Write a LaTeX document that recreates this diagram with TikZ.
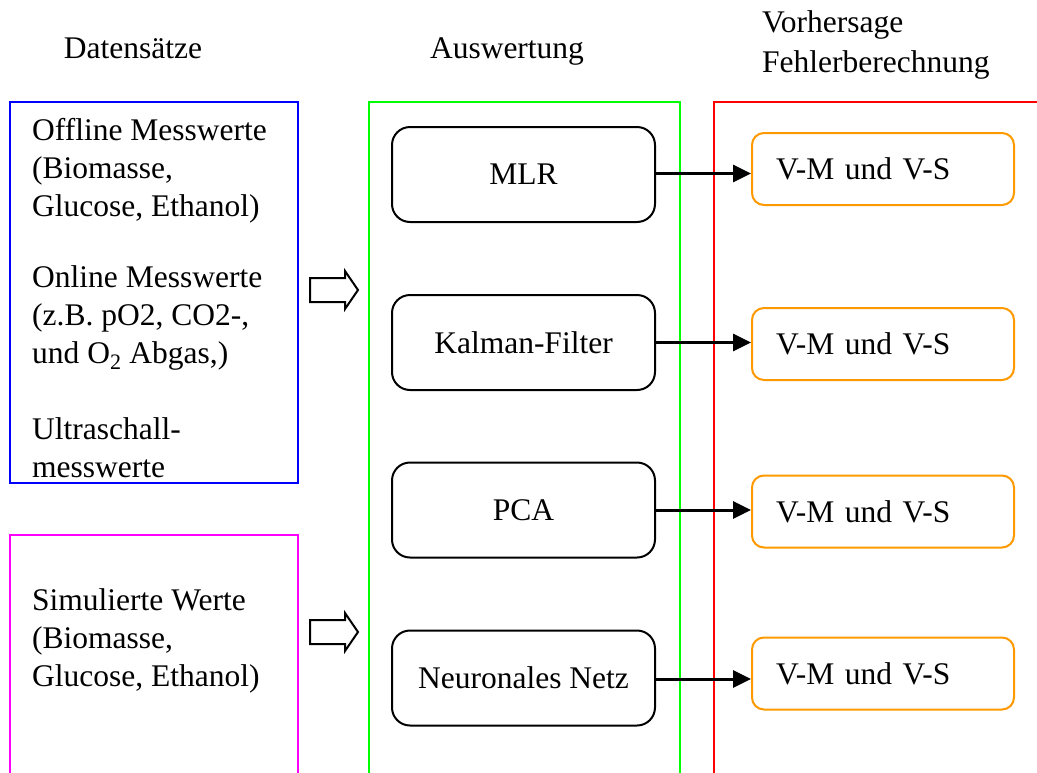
\documentclass[tikz,border=0pt]{standalone}
\usepackage{fontspec}
\setmainfont{Liberation Serif}
\usetikzlibrary{arrows.meta}
\definecolor{fblue}{RGB}{0,0,255}
\definecolor{fmag}{RGB}{255,0,255}
\definecolor{fgreen}{RGB}{0,255,0}
\definecolor{fred}{RGB}{255,0,0}
\definecolor{forange}{RGB}{255,153,0}
\begin{document}
\begin{tikzpicture}[x=1pt,y=-1pt,
  every node/.style={font=\fontsize{31.5}{38}\selectfont},
  frame/.style={line width=1.5pt},
  txt/.style={align=left,anchor=west,inner sep=0pt},
  method/.style={draw=black,line width=2pt,rounded corners=18pt,minimum width=263pt,minimum height=95pt,inner sep=0pt},
  result/.style={draw=forange,line width=2pt,rounded corners=12pt,minimum width=262pt,minimum height=72pt,inner xsep=24pt,text width=214pt,align=left,inner ysep=0pt},
  conn/.style={line width=3pt,-{Triangle[length=18pt,width=17pt]}},
  hollow/.style={draw=black,line width=2pt,fill=white,line join=miter}
]
\useasboundingbox (0,0) rectangle (1037,772);
\clip (0,0) rectangle (1037,772);
% headers
\node[anchor=base,inner sep=0pt] (h1) at (133,58) {Datensätze};
\node[anchor=base,inner sep=0pt] (h2) at (507,58) {Auswertung};
\node[txt,align=left,anchor=north west,font=\fontsize{31.5}{40}\selectfont] (h3) at (762,10) {Vorhersage\\Fehlerberechnung};
% frames
\draw[frame,fblue] (10,102) rectangle (298,483);
\draw[frame,fmag] (10,790) -- (10,535) -- (298,535) -- (298,790);
\draw[frame,fgreen] (369,790) -- (369,102) -- (680,102) -- (680,790);
\draw[frame,fred] (714,790) -- (714,102) -- (1050,102);
% left texts
\node[txt] (p1) at (32,171) {Offline Messwerte\\(Biomasse,\\Glucose, Ethanol)};
\node[txt] (p2) at (32,318) {Online Messwerte\\(z.B. pO2, CO2-,\\und O\textsubscript{2} Abgas,)};
\node[txt] (p3) at (32,448) {Ultraschall-\\messwerte};
\node[txt] (p4) at (32,641) {Simulierte Werte\\(Biomasse,\\Glucose, Ethanol)};
% hollow arrows
\draw[hollow] (310,278) -- (345,278) -- (345,271) -- (358,290) -- (345,309) -- (345,302) -- (310,302) -- cycle;
\draw[hollow] (310,620) -- (345,620) -- (345,613) -- (358,632) -- (345,651) -- (345,644) -- (310,644) -- cycle;
% methods
\node[method] (m1) at (523.5,174.5) {MLR};
\node[method] (m2) at (523.5,342.5) {Kalman-Filter};
\node[method] (m3) at (523.5,510) {PCA};
\node[method] (m4) at (523.5,678) {Neuronales Netz};
% results
\node[result] (r1) at (883,169) {V-M und V-S};
\node[result] (r2) at (883,344) {V-M und V-S};
\node[result] (r3) at (883,511.5) {V-M und V-S};
\node[result] (r4) at (883,673.5) {V-M und V-S};
% connectors
\draw[conn] ([yshift=1pt]m1.east) -- ([yshift=1pt]m1.east -| r1.west);
\draw[conn] (m2.east) -- (m2.east -| r2.west);
\draw[conn] (m3.east) -- (m3.east -| r3.west);
\draw[conn] ([yshift=-1pt]m4.east) -- ([yshift=-1pt]m4.east -| r4.west);
\end{tikzpicture}
\end{document}
